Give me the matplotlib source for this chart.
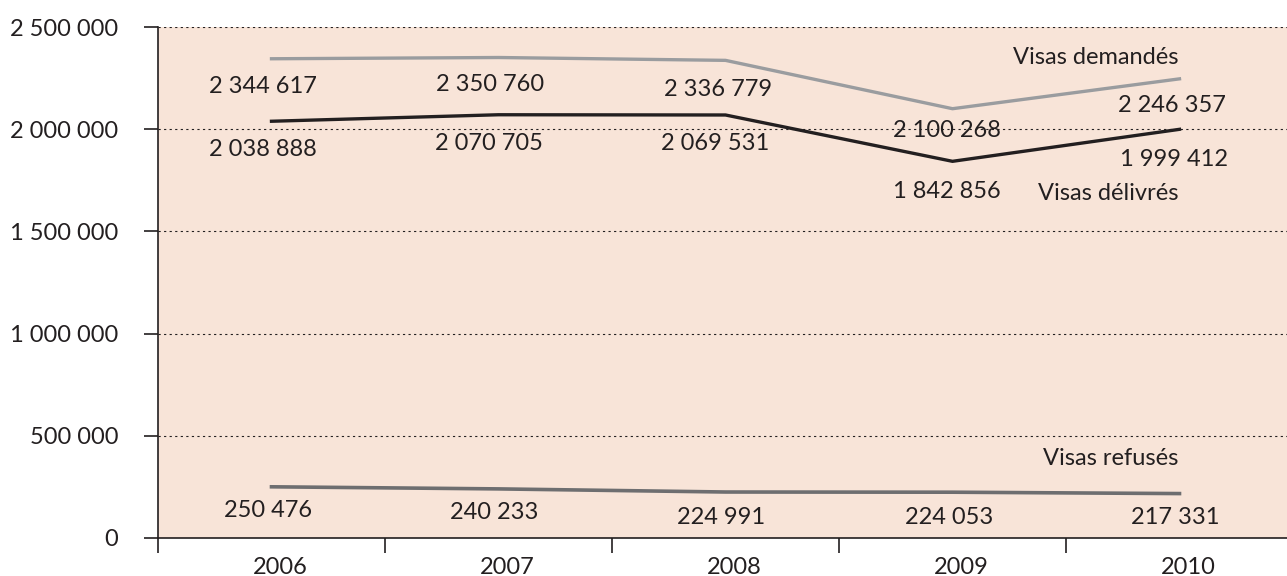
import matplotlib
matplotlib.use("Agg")
import matplotlib.pyplot as plt
from matplotlib.ticker import FixedLocator, NullFormatter

plt.rcParams['font.family'] = ['Lato', 'DejaVu Sans']

years = ["2006", "2007", "2008", "2009", "2010"]
demandes = [2344617, 2350760, 2336779, 2100268, 2246357]
delivres = [2038888, 2070705, 2069531, 1842856, 1999412]
refuses = [250476, 240233, 224991, 224053, 217331]
yticks = [0, 500000, 1000000, 1500000, 2000000, 2500000]
series_names = ["Visas demandés", "Visas délivrés", "Visas refusés"]

def fmt(v):
    return f"{v:,}".replace(",", " ")

FS = 17
W, H = 1287, 576
fig = plt.figure(figsize=(W / 100, H / 100), dpi=100)
left, right, top, bottom = 158, 1287, 27, 538
ax = fig.add_axes([left / W, 1 - bottom / H, (right - left) / W, (bottom - top) / H])
ax.set_facecolor("#F8E4D8")
x = list(range(len(years)))
step = 227.0
ax.set_xlim(-0.5, -0.5 + (right - left) / step)
ax.set_ylim(0, 2500000)

tc = "#231F20"
for s in ["top", "right"]:
    ax.spines[s].set_visible(False)
for s in ["left", "bottom"]:
    ax.spines[s].set_color(tc)
    ax.spines[s].set_linewidth(1.2)

ax.set_yticks(yticks)
ax.set_yticklabels([fmt(v) for v in yticks])
ax.tick_params(axis="y", length=10, width=1.2, color=tc, pad=18.5,
               labelsize=FS, labelcolor=tc)
for yv in yticks[1:]:
    ax.axhline(yv, color=tc, lw=0.8, ls=(0, (2, 3)), zorder=1)

ax.xaxis.set_major_locator(FixedLocator([i + 0.5 for i in range(-1, 5)]))
ax.xaxis.set_major_formatter(NullFormatter())
ax.tick_params(axis="x", which="major", length=11, width=1.2, color=tc, direction="out")
for i in x:
    ax.annotate(years[i], (i, 0), xytext=(9, -30), textcoords="offset pixels",
                ha="center", va="center", fontsize=FS, color=tc, annotation_clip=False)

ax.plot(x, demandes, color="#9A9C9F", lw=2.4, zorder=3)
ax.plot(x, delivres, color="#231F20", lw=2.4, zorder=3)
ax.plot(x, refuses, color="#6E6E70", lw=2.6, zorder=3)

dem_off = [(-9, -28), (-8, -27), (-7, -29), (-6, -22), (-8, -27)]
del_off = [(-9, -28), (-10, -29), (-10, -29), (-6, -30), (-6, -30)]
ref_off = [(-3, -24), (-4, -24), (-4, -25), (-3, -25), (-4, -24)]
for i in x:
    ax.annotate(fmt(demandes[i]), (i, demandes[i]), xytext=dem_off[i], textcoords="offset pixels",
                ha="center", va="center", fontsize=FS, color=tc, zorder=4)
    ax.annotate(fmt(delivres[i]), (i, delivres[i]), xytext=del_off[i], textcoords="offset pixels",
                ha="center", va="center", fontsize=FS, color=tc, zorder=4)
    ax.annotate(fmt(refuses[i]), (i, refuses[i]), xytext=ref_off[i], textcoords="offset pixels",
                ha="center", va="center", fontsize=FS, color=tc, zorder=4)

ax.annotate(series_names[0], (4, demandes[4]), xytext=(-1, 21), textcoords="offset pixels",
            ha="right", va="center", fontsize=FS, color=tc)
ax.annotate(series_names[1], (4, delivres[4]), xytext=(-1, -64), textcoords="offset pixels",
            ha="right", va="center", fontsize=FS, color=tc)
ax.annotate(series_names[2], (4, refuses[4]), xytext=(-1, 35), textcoords="offset pixels",
            ha="right", va="center", fontsize=FS, color=tc)

fig.savefig("out.png", dpi=100)
